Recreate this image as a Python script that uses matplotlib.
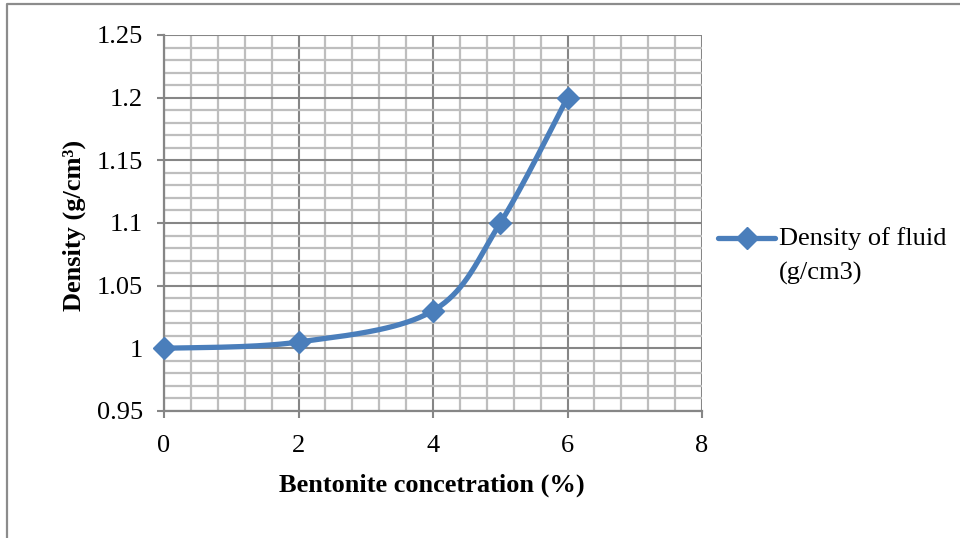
import numpy as np
import matplotlib
matplotlib.use("Agg")
import matplotlib.pyplot as plt
from matplotlib.lines import Line2D
from matplotlib.ticker import MultipleLocator

plt.rcParams['font.family'] = ['Liberation Serif', 'DejaVu Serif']

# Data
concentration = [0, 2, 4, 5, 6]
density = [1.0, 1.005, 1.03, 1.1, 1.2]
series_lines = ["Density of fluid", "(g/cm3)"]
x_label = "Bentonite concetration (%)"
y_label = "Density (g/cm³)"

LINE_COLOR = "#4A7EBB"
MAJOR_GRID = "#868686"
MINOR_GRID = "#BEBEBE"
FS = 19
MS = 11


def smooth_curve(xs, ys, n=40):
    """Catmull-Rom style smoothing through every point."""
    p = np.column_stack([xs, ys]).astype(float)
    p = np.vstack([p[0], p, p[-1]])
    out = []
    for i in range(1, len(p) - 2):
        p0, p1, p2, p3 = p[i - 1], p[i], p[i + 1], p[i + 2]
        c1 = p1 + (p2 - p0) / 6.0
        c2 = p2 - (p3 - p1) / 6.0
        t = np.linspace(0, 1, n)[:, None]
        seg = ((1 - t) ** 3) * p1 + 3 * ((1 - t) ** 2) * t * c1 + 3 * (1 - t) * t ** 2 * c2 + t ** 3 * p2
        out.append(seg if i == 1 else seg[1:])
    out = np.vstack(out)
    return out[:, 0], out[:, 1]


fig = plt.figure(figsize=(9.6, 5.38), dpi=100)
ax = fig.add_axes([164 / 960, 1 - 411 / 538, (702 - 164) / 960, (411 - 35) / 538])

ax.set_xlim(0, 8)
ax.set_ylim(0.95, 1.25)
ax.xaxis.set_major_locator(MultipleLocator(2))
ax.xaxis.set_minor_locator(MultipleLocator(0.4))
ax.yaxis.set_minor_locator(MultipleLocator(0.01))
ax.set_yticks([0.95, 1.0, 1.05, 1.1, 1.15, 1.2, 1.25])
ax.set_yticklabels(["0.95", "1", "1.05", "1.1", "1.15", "1.2", "1.25"])

ax.grid(which='minor', color=MINOR_GRID, linewidth=1.6)
ax.grid(which='major', color=MAJOR_GRID, linewidth=1.5)
ax.set_axisbelow(True)

for side in ('top', 'right'):
    ax.spines[side].set_visible(False)
for side in ('left', 'bottom'):
    ax.spines[side].set_color(MAJOR_GRID)
    ax.spines[side].set_linewidth(1.6)

ax.tick_params(which='major', direction='out', length=5, width=1.5, color=MAJOR_GRID,
               labelsize=FS)
ax.tick_params(axis='y', which='major', pad=10)
ax.tick_params(axis='x', which='major', pad=12)
ax.tick_params(which='minor', length=0)

sx, sy = smooth_curve(concentration, density)
ax.plot(sx, sy, color=LINE_COLOR, linewidth=3.8, solid_capstyle='round', zorder=3)
ax.plot(concentration, density, linestyle='none', marker='D', markersize=MS,
        color=LINE_COLOR, zorder=4, clip_on=False)

ax.set_xlabel(x_label, fontsize=FS, fontweight='bold')
ax.set_ylabel(y_label, fontsize=FS, fontweight='bold')
ax.xaxis.label.set_va('center')
ax.yaxis.label.set_va('center')
ax.xaxis.set_label_coords(432 / 960, 1 - 485 / 538, transform=fig.transFigure)
ax.yaxis.set_label_coords(74 / 960, 1 - 225 / 538, transform=fig.transFigure)

# Legend entry
ly = 1 - 238 / 538
fig.add_artist(Line2D([718 / 960, 775 / 960], [ly, ly], color=LINE_COLOR, linewidth=3.8,
                      solid_capstyle='round', transform=fig.transFigure))
fig.add_artist(Line2D([746.5 / 960], [ly], color=LINE_COLOR, marker='D', markersize=MS,
                      linestyle='none', transform=fig.transFigure))
for k, line in enumerate(series_lines):
    fig.text(779 / 960, 1 - (239 + 34 * k) / 538, line, fontsize=FS, va='center',
             ha='left', transform=fig.transFigure)

# Chart border
fig.add_artist(Line2D([7 / 960, 7 / 960, 1.0], [0.0, 1 - 4 / 538, 1 - 4 / 538],
                      color="#8C8C8C", linewidth=1.6, transform=fig.transFigure))

fig.savefig("out.png", dpi=100)
